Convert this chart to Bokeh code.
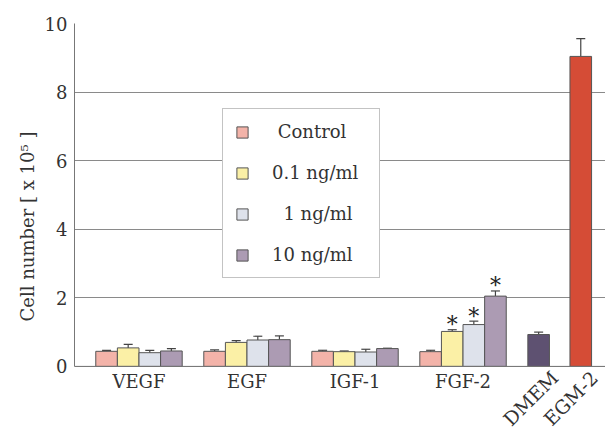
import math
from bokeh.plotting import figure
from bokeh.models import (ColumnDataSource, Whisker, Legend, LegendItem, FixedTicker,
                          Range1d, TeeHead, Span)
from bokeh.core.properties import value
from bokeh.embed import file_html
from bokeh.resources import INLINE

# ---------------- data ----------------
groups = ["VEGF", "EGF", "IGF-1", "FGF-2"]
series = ["Control", "0.1 ng/ml", "1 ng/ml", "10 ng/ml"]
legend_labels = ["\u00a0Control", "0.1 ng/ml", "\u00a0\u00a01 ng/ml", "10 ng/ml"]

control = [0.44, 0.44, 0.44, 0.43]
control_err = [0.03, 0.04, 0.03, 0.04]
conc_01 = [0.54, 0.70, 0.43, 1.02]
conc_01_err = [0.10, 0.05, 0.02, 0.05]
conc_1 = [0.40, 0.77, 0.42, 1.22]
conc_1_err = [0.07, 0.11, 0.08, 0.10]
conc_10 = [0.45, 0.78, 0.52, 2.05]
conc_10_err = [0.07, 0.11, 0.01, 0.15]

# significance marks (*) per series, per group
sig_control = [False, False, False, False]
sig_01 = [False, False, False, True]
sig_1 = [False, False, False, True]
sig_10 = [False, False, False, True]

media = ["DMEM", "EGM-2"]
media_values = [0.93, 9.04]
media_err = [0.07, 0.52]

y_ticks = [0, 2, 4, 6, 8, 10]

# ---------------- style / layout ----------------
FONT = "DejaVu Serif"
TXT = "#333333"
series_colors = ["#F3B3A9", "#FBF0A6", "#DEE2EB", "#AC9BB3"]
media_colors = ["#5E5171", "#D54C36"]
edge = "#555555"
bar_w = 0.2
offsets = [-0.3, -0.1, 0.1, 0.3]
group_x = list(range(len(groups)))
media_x = [3.70, 4.09]
media_label_dx = [-8, -10]
H = 429

# frame extends below zero so that category labels can be drawn inside it
p = figure(width=605, height=H, output_backend="svg", toolbar_location=None,
           x_range=Range1d(-0.597, 4.319), y_range=Range1d(-1.84, 10),
           min_border_left=74, min_border_right=0, min_border_top=23,
           min_border_bottom=0)
p.outline_line_color = None
p.background_fill_color = "white"
p.border_fill_color = "white"
p.xaxis.visible = False

p.xgrid.visible = False
p.ygrid.ticker = FixedTicker(ticks=y_ticks)
p.ygrid.grid_line_color = "#8a8a8a"
p.ygrid.grid_line_width = 1

p.yaxis.ticker = FixedTicker(ticks=y_ticks)
p.yaxis.bounds = (y_ticks[0], y_ticks[-1])
p.yaxis.axis_label = "Cell number [ x 10\u2075 ]"
p.yaxis.axis_label_text_font = FONT
p.yaxis.axis_label_text_font_style = "normal"
p.yaxis.axis_label_text_font_size = "18px"
p.yaxis.axis_label_text_color = TXT
p.yaxis.axis_label_standoff = 4
p.yaxis.major_label_text_font = FONT
p.yaxis.major_label_text_font_size = "18px"
p.yaxis.major_label_text_color = TXT
p.yaxis.major_label_standoff = 7
p.yaxis.major_tick_out = 0
p.yaxis.major_tick_in = 0
p.yaxis.minor_tick_out = 0
p.yaxis.minor_tick_in = 0
p.yaxis.major_tick_line_color = None
p.yaxis.minor_tick_line_color = None
p.yaxis.axis_line_color = "#777777"

# baseline (x axis line)
p.add_layout(Span(location=0, dimension="width", line_color="#777777", line_width=1))

series_vals = [control, conc_01, conc_1, conc_10]
series_errs = [control_err, conc_01_err, conc_1_err, conc_10_err]
series_sig = [sig_control, sig_01, sig_1, sig_10]

legend_items = []
for i, (vals, errs, sig) in enumerate(zip(series_vals, series_errs, series_sig)):
    xs = [gx + offsets[i] for gx in group_x]
    src = ColumnDataSource(dict(x=xs, top=vals, upper=[v + e for v, e in zip(vals, errs)]))
    r = p.vbar(x="x", top="top", bottom=0, width=bar_w, source=src,
               fill_color=series_colors[i], line_color=edge, line_width=1)
    w = Whisker(base="x", lower="top", upper="upper", source=src, dimension="height",
                line_color="#444444", line_width=1.2,
                upper_head=TeeHead(size=9, line_color="#444444", line_width=1.2),
                lower_head=None)
    p.add_layout(w)
    legend_items.append(LegendItem(label=legend_labels[i], renderers=[r]))
    sx = [x for x, s in zip(xs, sig) if s]
    sy = [v + e for v, e, s in zip(vals, errs, sig) if s]
    if sx:
        p.text(x=sx, y=sy, text=["*"] * len(sx), text_font=value(FONT),
               text_font_size="22px", text_align="center", text_baseline="middle",
               y_offset=-5, text_color="#222222")

msrc = ColumnDataSource(dict(x=media_x, top=media_values,
                             upper=[v + e for v, e in zip(media_values, media_err)],
                             color=media_colors))
p.vbar(x="x", top="top", bottom=0, width=bar_w, source=msrc,
       fill_color="color", line_color=edge, line_width=1)
p.add_layout(Whisker(base="x", lower="top", upper="upper", source=msrc, dimension="height",
                     line_color="#444444", line_width=1.2,
                     upper_head=TeeHead(size=9, line_color="#444444", line_width=1.2),
                     lower_head=None))

# category labels under the baseline
p.text(x=group_x, y=[0] * len(group_x), text=groups, text_font=value(FONT),
       text_font_size="18px", text_align="center", text_baseline="top",
       y_offset=5, text_color=TXT)

# rotated labels for the two media controls
p.text(x=media_x, y=[-0.93] * len(media_x), text=media, x_offset=media_label_dx,
       angle=math.radians(45), text_font=value(FONT), text_font_size="19px",
       text_align="center", text_baseline="middle", text_color=TXT)

legend = Legend(items=legend_items, location=(148, 88 + (H - 366)), orientation="vertical",
                glyph_width=14, glyph_height=14, label_height=21, label_width=95,
                label_standoff=23, spacing=20, padding=12, margin=0,
                label_text_font=FONT, label_text_font_size="18px",
                label_text_color=TXT,
                border_line_color="#888888", border_line_width=1,
                background_fill_color="white", background_fill_alpha=1.0)
p.add_layout(legend, "center")

open("out.html", "w").write(file_html(p, INLINE))
